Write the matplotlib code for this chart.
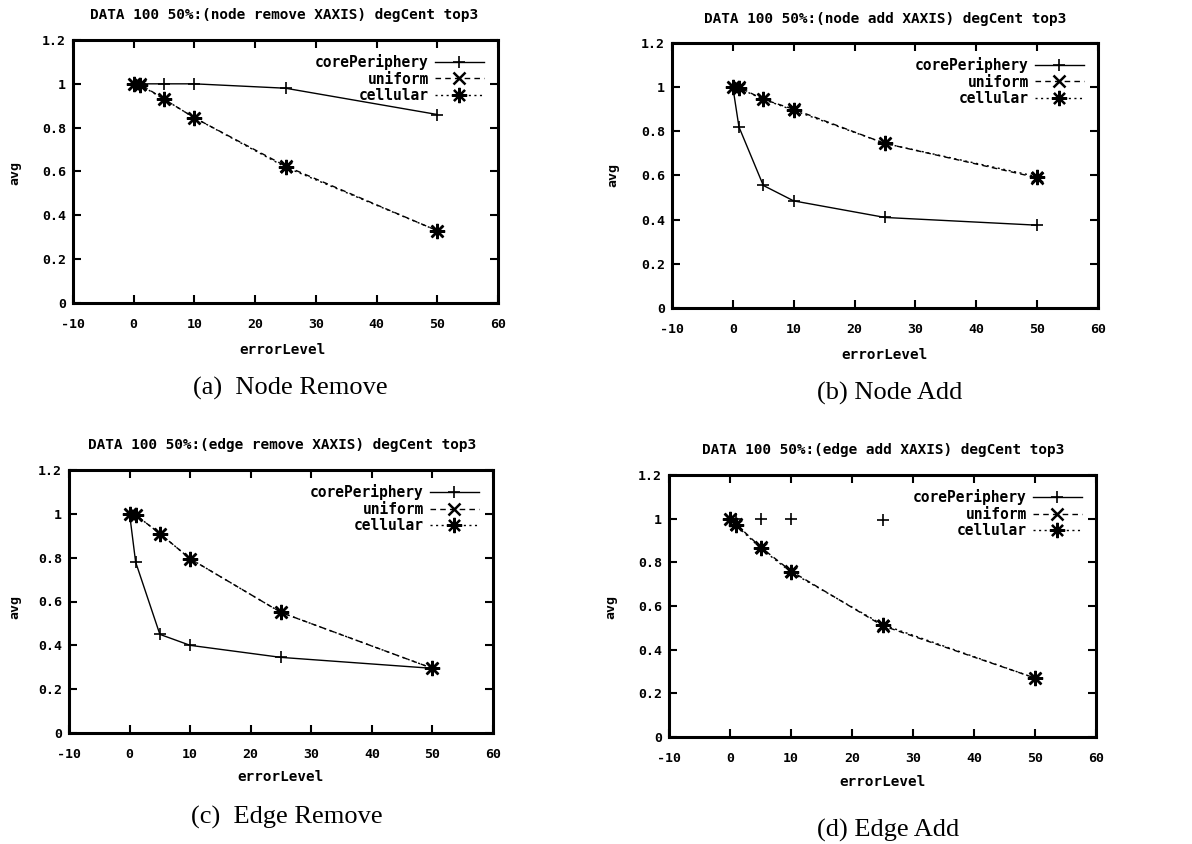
import matplotlib
matplotlib.use("Agg")
import matplotlib.pyplot as plt
from matplotlib.lines import Line2D
from matplotlib.ticker import MultipleLocator, FormatStrFormatter

plt.rcParams["axes.unicode_minus"] = False

W, H = 1192, 844

ERROR_LEVELS = [0, 1, 5, 10, 25, 50]
SERIES_NAMES = ["corePeriphery", "uniform", "cellular"]

# (a) node remove
NODE_REMOVE_CP = [1.0, 1.0, 1.0, 1.0, 0.98, 0.86]
NODE_REMOVE_UNI = [1.0, 1.0, 0.93, 0.845, 0.625, 0.33]
NODE_REMOVE_CELL = [1.0, 0.995, 0.93, 0.845, 0.62, 0.33]

# (b) node add
NODE_ADD_CP = [1.0, 0.82, 0.555, 0.485, 0.41, 0.375]
NODE_ADD_UNI = [1.0, 1.0, 0.945, 0.9, 0.745, 0.59]
NODE_ADD_CELL = [1.0, 0.995, 0.945, 0.895, 0.745, 0.595]

# (c) edge remove
EDGE_REMOVE_CP = [1.0, 0.78, 0.45, 0.40, 0.345, 0.295]
EDGE_REMOVE_UNI = [1.0, 0.995, 0.91, 0.795, 0.55, 0.295]
EDGE_REMOVE_CELL = [1.0, 0.995, 0.91, 0.795, 0.55, 0.295]

# (d) edge add (corePeriphery only visible up to 25, as points)
EDGE_ADD_CP_X = [0, 1, 5, 10, 25]
EDGE_ADD_CP = [1.0, 1.0, 1.0, 1.0, 0.995]
EDGE_ADD_UNI = [1.0, 0.975, 0.87, 0.76, 0.51, 0.27]
EDGE_ADD_CELL = [1.0, 0.97, 0.865, 0.755, 0.515, 0.27]

TITLES = [
    "DATA 100 50%:(node remove XAXIS) degCent top3",
    "DATA 100 50%:(node add XAXIS) degCent top3",
    "DATA 100 50%:(edge remove XAXIS) degCent top3",
    "DATA 100 50%:(edge add XAXIS) degCent top3",
]
CAPTIONS = ["(a)  Node Remove", "(b) Node Add", "(c)  Edge Remove", "(d) Edge Add"]

MONO = dict(family="DejaVu Sans Mono", weight="bold")

# pixel layout: axes (left, top, right, bottom), title, xlabel, ylabel, caption
PANELS = [
    dict(ax=(73, 40, 498, 303), title=(284, 15), xl=(282, 350), yl=(15, 173), cap=(290, 388)),
    dict(ax=(672, 43, 1098, 308), title=(885, 19), xl=(884, 355), yl=(613, 175), cap=(890, 393)),
    dict(ax=(69, 470, 493, 733), title=(282, 445), xl=(280, 777), yl=(15, 607), cap=(287, 817)),
    dict(ax=(669, 475, 1096, 737), title=(883, 450), xl=(882, 782), yl=(611, 607), cap=(888, 830)),
]

DATA = [
    (ERROR_LEVELS, NODE_REMOVE_CP, "-", NODE_REMOVE_UNI, NODE_REMOVE_CELL),
    (ERROR_LEVELS, NODE_ADD_CP, "-", NODE_ADD_UNI, NODE_ADD_CELL),
    (ERROR_LEVELS, EDGE_REMOVE_CP, "-", EDGE_REMOVE_UNI, EDGE_REMOVE_CELL),
    (EDGE_ADD_CP_X, EDGE_ADD_CP, "none", EDGE_ADD_UNI, EDGE_ADD_CELL),
]

fig = plt.figure(figsize=(W / 100, H / 100), dpi=100)


def px(x, y):
    return x / W, 1 - y / H


for i, p in enumerate(PANELS):
    l, t, r, b = p["ax"]
    ax = fig.add_axes([l / W, 1 - b / H, (r - l) / W, (b - t) / H])
    cp_x, cp, cp_ls, uni, cell = DATA[i]

    ax.plot(cp_x, cp, color="black", lw=1.0, ls=cp_ls, marker="+", ms=9, mew=1.2,
            label=SERIES_NAMES[0])
    ax.plot(ERROR_LEVELS, uni, color="black", lw=1.0, ls=(0, (4, 3)), marker="x", ms=9, mew=1.8,
            label=SERIES_NAMES[1])
    ax.plot(ERROR_LEVELS, cell, color="black", lw=1.0, ls=(0, (1.5, 2.5)), marker=(8, 2, 0), ms=11,
            mew=1.6, label=SERIES_NAMES[2])

    ax.set_xlim(-10, 60)
    ax.set_ylim(0, 1.2)
    ax.xaxis.set_major_locator(MultipleLocator(10))
    ax.yaxis.set_major_locator(MultipleLocator(0.2))
    ax.yaxis.set_major_formatter(FormatStrFormatter("%g"))
    ax.tick_params(direction="in", top=True, right=True, length=6, width=1.5, labelsize=9.5)
    ax.tick_params(axis="x", pad=11)
    ax.tick_params(axis="y", pad=5)
    for lab in ax.get_xticklabels() + ax.get_yticklabels():
        lab.set_fontfamily("DejaVu Sans Mono")
        lab.set_fontweight("bold")
    for s in ax.spines.values():
        s.set_linewidth(2.2)

    handles, labels = ax.get_legend_handles_labels()
    if cp_ls == "none":
        handles[0] = Line2D([], [], color="black", lw=1.0, marker="+", ms=9, mew=1.2)
    ax.legend(handles, labels, loc="upper right", frameon=False, markerfirst=False,
              handlelength=3.4, handletextpad=0.4, labelspacing=0.12,
              borderaxespad=0.55, prop=dict(family="DejaVu Sans Mono", weight="bold", size=10.5))

    fig.text(*px(*p["title"]), TITLES[i], ha="center", va="center", fontsize=10.4, **MONO)
    fig.text(*px(*p["xl"]), "errorLevel", ha="center", va="center", fontsize=10.3, **MONO)
    fig.text(*px(*p["yl"]), "avg", ha="center", va="center", rotation=90, fontsize=9.5, **MONO)
    fig.text(*px(*p["cap"]), CAPTIONS[i], ha="center", va="center", fontsize=19,
             family="Liberation Serif")

fig.savefig("out.png", dpi=100)
